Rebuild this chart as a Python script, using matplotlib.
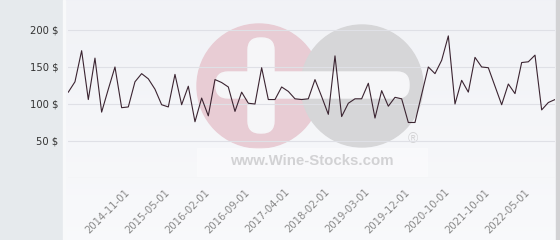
import matplotlib
matplotlib.use("Agg")
import matplotlib.pyplot as plt
import numpy as np
from matplotlib.patches import Circle, FancyBboxPatch, Rectangle

# ---------------- data ----------------
values = [116, 130, 172, 106, 162, 89, 120, 150, 95, 96,
          130, 141, 134, 120, 99, 96, 140, 99, 124, 76,
          108, 84, 133, 129, 123, 90, 116, 101, 100, 149,
          106, 106, 123, 117, 107, 106, 107, 133, 110, 86,
          165, 83, 101, 107, 107, 128, 81, 118, 97, 109,
          107, 75, 75, 113, 150, 141, 159, 192, 100, 132,
          116, 163, 150, 149, 124, 99, 127, 114, 156, 157,
          166, 92, 102, 106]
tick_labels = ["2014-11-01", "2015-05-01", "2016-02-01", "2016-09-01",
               "2017-04-01", "2018-02-01", "2019-03-01", "2019-12-01",
               "2020-10-01", "2021-10-01", "2022-05-01"]
tick_positions = list(range(9, 9 + 6 * len(tick_labels), 6))
y_ticks = [0, 50, 100, 150, 200]
y_tick_labels = ["", "50 $", "100 $", "150 $", "200 $"]

plt.rcParams['font.family'] = ['DejaVu Sans']

W, H = 560, 240
fig = plt.figure(figsize=(W / 100, H / 100), dpi=100)

# ---------------- background (pixel coords) ----------------
bg = fig.add_axes([0, 0, 1, 1], zorder=0)
bg.set_xlim(0, W)
bg.set_ylim(H, 0)
bg.axis("off")
grad = np.linspace(0, 1, 256).reshape(-1, 1)
top = np.array([0.945, 0.949, 0.965])
bot = np.array([0.975, 0.978, 0.985])
img = top + (bot - top) * grad[..., None]
img = img.reshape(256, 1, 3)
bg.imshow(img, extent=[0, W, H, 0], aspect="auto", zorder=0)
bg.add_patch(Rectangle((0, 0), 63, H, color="#e6eaed", zorder=1))
bg.add_patch(Rectangle((63, 0), 2, H, color="#f8f9fa", zorder=1))
bg.add_patch(Rectangle((556, 0), 4, H, color="#d2d2d4", zorder=1))

# watermark
bg.add_patch(Circle((259, 86), 62, color="#e8ccd4", zorder=2))
bg.add_patch(Circle((362, 86), 61, color="#d6d6d8", zorder=3))
bg.add_patch(FancyBboxPatch((248, 38), 26, 95, boxstyle="round,pad=0,rounding_size=12",
                            color="#f6f6f8", zorder=4))
bg.add_patch(FancyBboxPatch((216, 72), 193, 26, boxstyle="round,pad=0,rounding_size=12",
                            color="#f6f6f8", zorder=4))
bg.add_patch(Rectangle((197, 148), 230, 28, color="#ffffff", alpha=0.35, zorder=4))
bg.text(312, 161, "www.Wine-Stocks.com", ha="center", va="center",
        fontsize=10.8, fontweight="bold", color="#d2d2d4",
        family=["Liberation Sans", "DejaVu Sans"], zorder=5)
bg.text(413, 139, "®", ha="center", va="center", fontsize=10,
        color="#d4d4d6", family=["Liberation Sans", "DejaVu Sans"], zorder=5)

# ---------------- main chart ----------------
x0, x1 = 68.3, 555.0
ax = fig.add_axes([x0 / W, (H - 178) / H, (x1 - x0) / W, 178 / H], zorder=2)
ax.patch.set_alpha(0)
x = np.arange(len(values))
ax.plot(x, values, color="#3b2431", lw=0.8, zorder=3)
ax.set_xlim(0, len(values) - 1)
ax.set_ylim(0, 240.5)

ax.set_yticks(y_ticks)
ax.set_yticklabels(y_tick_labels)
ax.set_xticks(tick_positions)
ax.set_xticklabels(tick_labels, rotation=45, ha="right", va="center",
                   rotation_mode="anchor")
ax.tick_params(axis="y", length=0, pad=7, labelsize=7.2, labelcolor="#333333")
ax.tick_params(axis="x", length=0, pad=9, labelsize=7.2, labelcolor="#888888")
ax.grid(axis="y", color="#dfe0e6", lw=0.8)
ax.grid(axis="x", visible=False)
for s in ax.spines.values():
    s.set_visible(False)

fig.savefig("out.png", dpi=100)
